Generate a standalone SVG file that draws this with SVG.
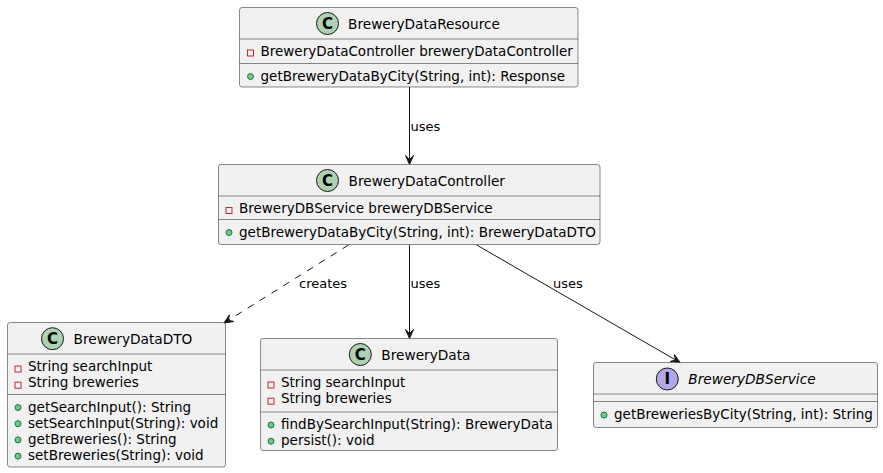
<svg xmlns="http://www.w3.org/2000/svg" width="883" height="473" viewBox="0 0 883 473">
<style>
.box{fill:#F1F1F1;stroke:#181818;stroke-width:0.5}
.sep{stroke:#181818;stroke-width:0.5}
.cc{fill:#ADD1B2;stroke:#181818;stroke-width:1}
.ic{fill:#B4A7E5;stroke:#181818;stroke-width:1}
.cl{font-family:"DejaVu Sans",sans-serif;font-size:15px;font-weight:bold;fill:#000;text-anchor:middle}
.t{font-family:"DejaVu Sans",sans-serif;font-size:13.7px;fill:#000}
.m{font-family:"DejaVu Sans",sans-serif;font-size:13.5px;fill:#000}
.lb{font-family:"DejaVu Sans",sans-serif;font-size:13px;fill:#000}
.priv{fill:none;stroke:#C82930;stroke-width:1}
.pub{fill:#84BE84;stroke:#038048;stroke-width:1}
.e{fill:none;stroke:#181818;stroke-width:1}
.d{stroke-dasharray:7,7}
</style>
<defs>
<marker id="arr" markerUnits="userSpaceOnUse" markerWidth="12" markerHeight="10" refX="10" refY="5" orient="auto" viewBox="0 0 12 10">
<path d="M10,5 L1,1 L5,5 L1,9 Z" fill="#181818" stroke="#181818" stroke-width="1"/>
</marker>
</defs>
<g id="connectors">
<path class="e" d="M409.5,87 L409.5,164.5" marker-end="url(#arr)"/>
<text class="lb" x="410.5" y="131">uses</text>
<path class="e d" d="M348.5,245 L224,323" marker-end="url(#arr)"/>
<text class="lb" x="299" y="288">creates</text>
<path class="e" d="M409.5,245 L409.5,338.5" marker-end="url(#arr)"/>
<text class="lb" x="410.5" y="288">uses</text>
<path class="e" d="M476.7,245 L680,362.5" marker-end="url(#arr)"/>
<text class="lb" x="553" y="288">uses</text>
</g>
<g id="BreweryDataResource">
<rect class="box" x="239.5" y="7.5" width="338.5" height="79.5" rx="2.5"/>
<circle class="cc" cx="327.5" cy="23.5" r="11"/>
<text class="cl" x="327.5" y="28.8">C</text>
<text class="t" x="348" y="28.5">BreweryDataResource</text>
<line class="sep" x1="239.5" y1="39" x2="578" y2="39"/>
<rect class="priv" x="247.5" y="50" width="6" height="6"/>
<text class="m" x="260.5" y="55.5">BreweryDataController breweryDataController</text>
<line class="sep" x1="239.5" y1="63.5" x2="578" y2="63.5"/>
<circle class="pub" cx="250.5" cy="76.5" r="3"/>
<text class="m" x="260.5" y="80.5">getBreweryDataByCity(String, int): Response</text>
</g>
<g id="BreweryDataController">
<rect class="box" x="218.5" y="164.5" width="381.5" height="80" rx="2.5"/>
<circle class="cc" cx="327.5" cy="180.5" r="11"/>
<text class="cl" x="327.5" y="185.8">C</text>
<text class="t" x="348.5" y="185.5">BreweryDataController</text>
<line class="sep" x1="218.5" y1="196" x2="600" y2="196"/>
<rect class="priv" x="226" y="207.5" width="6" height="6"/>
<text class="m" x="239" y="213">BreweryDBService breweryDBService</text>
<line class="sep" x1="218.5" y1="219.5" x2="600" y2="219.5"/>
<circle class="pub" cx="229" cy="232.5" r="3"/>
<text class="m" x="239" y="236.5">getBreweryDataByCity(String, int): BreweryDataDTO</text>
</g>
<g id="BreweryDataDTO">
<rect class="box" x="7.5" y="322.5" width="218" height="144.5" rx="2.5"/>
<circle class="cc" cx="52.5" cy="338.7" r="11"/>
<text class="cl" x="52.5" y="344">C</text>
<text class="t" x="73.5" y="343.5">BreweryDataDTO</text>
<line class="sep" x1="7.5" y1="354" x2="225.5" y2="354"/>
<rect class="priv" x="15" y="366" width="6" height="6"/>
<text class="m" x="28" y="371">String searchInput</text>
<rect class="priv" x="15" y="382.2" width="6" height="6"/>
<text class="m" x="28" y="387.2">String breweries</text>
<line class="sep" x1="7.5" y1="394.5" x2="225.5" y2="394.5"/>
<circle class="pub" cx="18" cy="407.5" r="3"/>
<text class="m" x="28" y="411.5">getSearchInput(): String</text>
<circle class="pub" cx="18" cy="423.7" r="3"/>
<text class="m" x="28" y="427.7">setSearchInput(String): void</text>
<circle class="pub" cx="18" cy="439.9" r="3"/>
<text class="m" x="28" y="443.9">getBreweries(): String</text>
<circle class="pub" cx="18" cy="456.1" r="3"/>
<text class="m" x="28" y="460.1">setBreweries(String): void</text>
</g>
<g id="BreweryData">
<rect class="box" x="260.5" y="338.5" width="297" height="112" rx="2.5"/>
<circle class="cc" cx="360.3" cy="354.5" r="11"/>
<text class="cl" x="360.3" y="359.8">C</text>
<text class="t" x="381.3" y="359.5">BreweryData</text>
<line class="sep" x1="260.5" y1="370" x2="557.5" y2="370"/>
<rect class="priv" x="268" y="382" width="6" height="6"/>
<text class="m" x="281" y="387">String searchInput</text>
<rect class="priv" x="268" y="398.2" width="6" height="6"/>
<text class="m" x="281" y="403.2">String breweries</text>
<line class="sep" x1="260.5" y1="412" x2="557.5" y2="412"/>
<circle class="pub" cx="271" cy="425" r="3"/>
<text class="m" x="281" y="429">findBySearchInput(String): BreweryData</text>
<circle class="pub" cx="271" cy="441.2" r="3"/>
<text class="m" x="281" y="445.2">persist(): void</text>
</g>
<g id="BreweryDBService">
<rect class="box" x="593.5" y="362.5" width="284" height="65" rx="2.5"/>
<circle class="ic" cx="667.3" cy="379" r="11"/>
<text class="cl" x="667.3" y="384.3">I</text>
<text class="t" x="688.3" y="384" font-style="italic">BreweryDBService</text>
<line class="sep" x1="593.5" y1="394" x2="877.5" y2="394"/>
<line class="sep" x1="593.5" y1="401.5" x2="877.5" y2="401.5"/>
<circle class="pub" cx="604" cy="415" r="3"/>
<text class="m" x="614" y="419">getBreweriesByCity(String, int): String</text>
</g>
</svg>
